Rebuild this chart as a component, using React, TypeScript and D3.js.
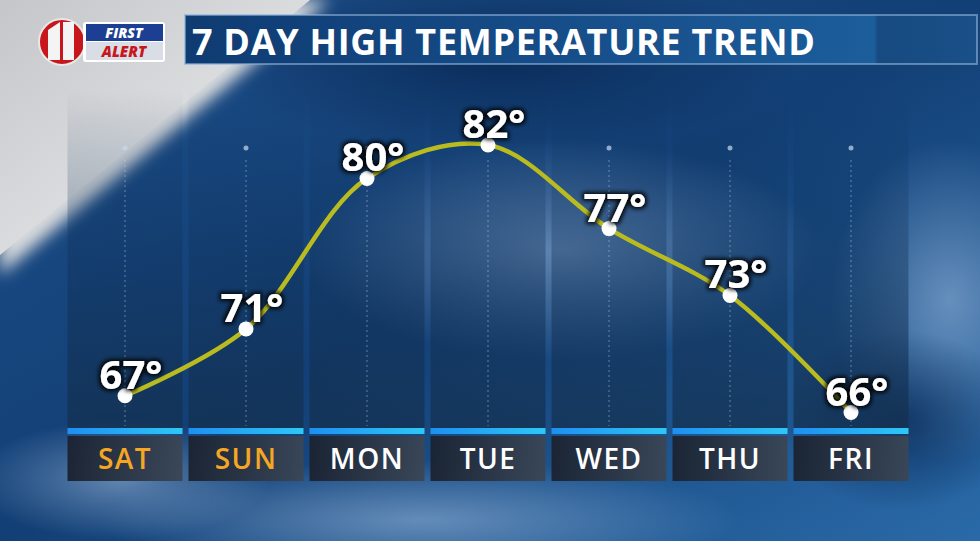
import React from "react";
import * as d3 from "d3";

const days = ["SAT", "SUN", "MON", "TUE", "WED", "THU", "FRI"];
const highs = [67, 71, 80, 82, 77, 73, 66];
const weekend = [true, true, false, false, false, false, false];
const title = "7 DAY HIGH TEMPERATURE TREND";

const W = 980, H = 541;

export default function App() {
  const x = d3.scaleLinear().domain([0, days.length - 1]).range([125, 851]);
  const y = d3.scaleLinear().domain([66, 82]).range([412.5, 145]);
  const colW = 115;
  const line = d3.line<number>().x((_, i) => x(i)).y(d => y(d)).curve(d3.curveCatmullRom.alpha(0.5));
  const pts = highs.map((v, i) => ({ v, i, cx: x(i), cy: y(v) }));
  return (
    <svg width={W} height={H} style={{ display: "block", position: "absolute", left: 0, top: 0 }} fontFamily="'Open Sans', 'DejaVu Sans', sans-serif">
      <defs>
        <linearGradient id="sky" x1="0" y1="0" x2="1" y2="1">
          <stop offset="0" stopColor="#1d4f8a" />
          <stop offset="0.5" stopColor="#123f75" />
          <stop offset="1" stopColor="#2a6aa8" />
        </linearGradient>
        <radialGradient id="cloud1" cx="0.5" cy="0.5" r="0.5">
          <stop offset="0" stopColor="#9fbde0" stopOpacity="0.55" />
          <stop offset="1" stopColor="#9fbde0" stopOpacity="0" />
        </radialGradient>
        <radialGradient id="dark1" cx="0.5" cy="0.5" r="0.5">
          <stop offset="0" stopColor="#06234d" stopOpacity="0.7" />
          <stop offset="1" stopColor="#06234d" stopOpacity="0" />
        </radialGradient>
        <linearGradient id="wedge" x1="0" y1="0" x2="1" y2="1">
          <stop offset="0" stopColor="#c4c6c9" />
          <stop offset="0.75" stopColor="#e4e6e8" />
          <stop offset="0.93" stopColor="#ffffff" />
          <stop offset="1" stopColor="#ffffff" stopOpacity="0" />
        </linearGradient>
        <linearGradient id="col" x1="0" y1="0" x2="0" y2="1">
          <stop offset="0" stopColor="#0a2a50" stopOpacity="0" />
          <stop offset="0.35" stopColor="#0d2e55" stopOpacity="0.25" />
          <stop offset="1" stopColor="#14304f" stopOpacity="0.75" />
        </linearGradient>
        <linearGradient id="lab" x1="0" y1="0" x2="1" y2="0">
          <stop offset="0" stopColor="#1a2230" />
          <stop offset="1" stopColor="#3a4656" />
        </linearGradient>
        <linearGradient id="titleFill" x1="0" y1="0" x2="1" y2="0">
          <stop offset="0" stopColor="#0f3b72" />
          <stop offset="0.87" stopColor="#1c5d9c" />
          <stop offset="0.875" stopColor="#164a80" />
          <stop offset="1" stopColor="#1a5088" />
        </linearGradient>
        <linearGradient id="blueBar" x1="0" y1="0" x2="1" y2="0">
          <stop offset="0" stopColor="#1e8ff0" />
          <stop offset="1" stopColor="#2ec8f5" />
        </linearGradient>
        <filter id="shadow" x="-20%" y="-20%" width="140%" height="140%">
          <feMorphology in="SourceAlpha" operator="dilate" radius="2" result="d" />
          <feGaussianBlur in="d" stdDeviation="2" result="b" />
          <feFlood floodColor="#000" floodOpacity="0.9" />
          <feComposite in2="b" operator="in" result="s" />
          <feMerge><feMergeNode in="s" /><feMergeNode in="SourceGraphic" /></feMerge>
        </filter>
        <filter id="blur8"><feGaussianBlur stdDeviation="8" /></filter>
      </defs>

      <rect width={W} height={H} fill="url(#sky)" />
      <ellipse cx={560} cy={250} rx={260} ry={110} fill="url(#cloud1)" />
      <ellipse cx={420} cy={520} rx={320} ry={60} fill="url(#cloud1)" />
      <ellipse cx={950} cy={300} rx={120} ry={160} fill="url(#cloud1)" />
      <ellipse cx={900} cy={420} rx={120} ry={90} fill="url(#dark1)" />
      <ellipse cx={500} cy={60} rx={300} ry={90} fill="url(#dark1)" />
      <ellipse cx={120} cy={480} rx={150} ry={60} fill="url(#cloud1)" />
      <path d="M0,0 L330,0 L0,275 Z" fill="url(#wedge)" filter="url(#blur8)" />
      <path d="M0,0 L310,0 L0,255 Z" fill="url(#wedge)" />

      {days.map((d, i) => (
        <g key={d}>
          <rect x={x(i) - colW / 2} y={90} width={colW} height={338} fill="url(#col)" />
          <line x1={x(i)} x2={x(i)} y1={160} y2={426} stroke="#c8d8ee" strokeOpacity={0.45} strokeDasharray="2,3" />
          <circle cx={x(i)} cy={148} r={2.5} fill="#c8d8ee" fillOpacity={0.7} />
          <rect x={x(i) - colW / 2} y={428} width={colW} height={6} fill="url(#blueBar)" />
          <rect x={x(i) - colW / 2} y={436} width={colW} height={45} fill="url(#lab)" opacity={0.95} />
          <text x={x(i)} y={469} textAnchor="middle" fontSize={28} fontWeight={600}
            fill={weekend[i] ? "#f5a623" : "#ffffff"} letterSpacing={1.5}>{d}</text>
        </g>
      ))}

      <path d={line(highs) || ""} fill="none" stroke="#b9bb1e" strokeWidth={4.5} />
      {pts.map(p => (
        <circle key={p.i} cx={p.cx} cy={p.cy} r={7.5} fill="#ffffff" />
      ))}
      {pts.map(p => (
        <text key={"t" + p.i} x={p.cx + 6} y={p.cy - 7} textAnchor="middle" fontSize={40} fontWeight={700}
          fill="#ffffff" filter="url(#shadow)">{p.v}°</text>
      ))}

      {/* title bar */}
      <rect x={185} y={15} width={792} height={49} fill="url(#titleFill)" stroke="#8fb3d8" strokeOpacity={0.6} strokeWidth={2} />
      <text x={192} y={55} fontSize={36} fontWeight={700} fill="#ffffff" letterSpacing={0.7}>{title}</text>

      {/* logo */}
      <circle cx={62} cy={42} r={23} fill="#c8161d" stroke="#e8e8e8" strokeWidth={2} />
      <path d="M48,30 L60,22 L60,60 L48,60 Z M63,22 L74,22 L74,60 L63,60 Z" fill="#f4f4f4" />
      <rect x={83} y={22} width={82} height={40} rx={3} fill="#ffffff" />
      <rect x={86} y={24} width={77} height={17} fill="#1c3f93" />
      <rect x={86} y={42} width={77} height={18} fill="#d9dde5" />
      <text x={124} y={38} textAnchor="middle" fontSize={14} fontWeight={800} fontStyle="italic" fill="#ffffff">FIRST</text>
      <text x={124} y={57} textAnchor="middle" fontSize={15} fontWeight={800} fontStyle="italic" fill="#c8161d">ALERT</text>
    </svg>
  );
}
